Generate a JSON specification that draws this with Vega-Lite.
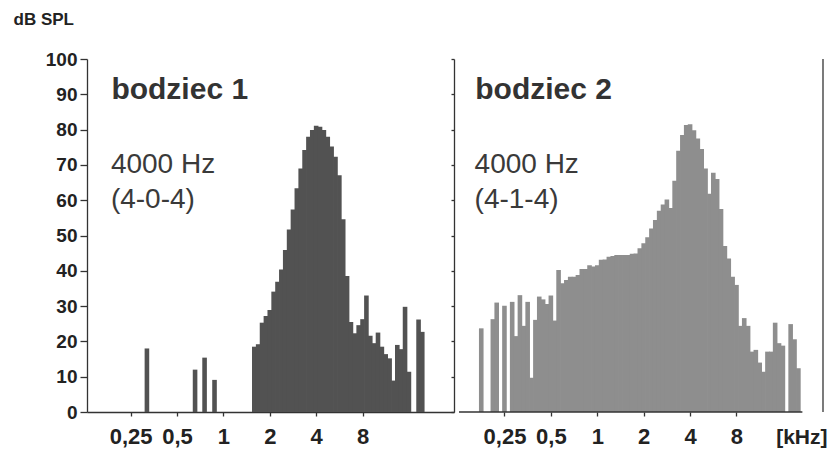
{
  "$schema": "https://vega.github.io/schema/vega-lite/v6.json",
  "background": "white",
  "padding": {"left": 13, "top": 10, "right": 9, "bottom": 4},
  "bounds": "flush",
  "spacing": 0,
  "config": {
    "view": {"stroke": null},
    "font": "Liberation Sans",
    "axis": {
      "grid": false,
      "domainColor": "#333333",
      "domainWidth": 1.3,
      "tickColor": "#333333",
      "tickWidth": 1.3,
      "labelColor": "#222222",
      "labelFont": "Liberation Sans",
      "labelFontWeight": "bold",
      "labelOverlap": false,
      "titleFont": "Liberation Sans",
      "titleColor": "#222222"
    },
    "axisY": {"labelOverlap": false, "labelSeparation": 0},
    "text": {"font": "Liberation Sans"}
  },
  "datasets": {
    "stimulus1": [
      {"f": 0.319, "db": 18}, {"f": 0.655, "db": 12}, {"f": 0.755, "db": 15.4}, {"f": 0.876, "db": 9.1},
      {"f": 1.587, "db": 18.5}, {"f": 1.682, "db": 19.2}, {"f": 1.782, "db": 25.3}, {"f": 1.888, "db": 27.2},
      {"f": 2.0, "db": 28.9}, {"f": 2.119, "db": 34.1}, {"f": 2.245, "db": 36.9}, {"f": 2.378, "db": 40.4},
      {"f": 2.52, "db": 45.9}, {"f": 2.67, "db": 51.7}, {"f": 2.828, "db": 57.4}, {"f": 2.997, "db": 63.4},
      {"f": 3.175, "db": 69.0}, {"f": 3.364, "db": 74.2}, {"f": 3.564, "db": 78.0}, {"f": 3.775, "db": 79.9},
      {"f": 4.0, "db": 81.1}, {"f": 4.238, "db": 80.8}, {"f": 4.49, "db": 79.9}, {"f": 4.757, "db": 78.0},
      {"f": 5.04, "db": 75.2}, {"f": 5.339, "db": 72.3}, {"f": 5.657, "db": 67.1}, {"f": 5.993, "db": 54.6},
      {"f": 6.35, "db": 38.5}, {"f": 6.727, "db": 25.5}, {"f": 7.127, "db": 22.3}, {"f": 7.551, "db": 24.6},
      {"f": 8.0, "db": 26.3}, {"f": 8.476, "db": 33.0}, {"f": 8.98, "db": 21.6}, {"f": 9.514, "db": 19.5},
      {"f": 10.08, "db": 22.5}, {"f": 10.68, "db": 18.5}, {"f": 11.31, "db": 16.4}, {"f": 11.99, "db": 15.2},
      {"f": 12.7, "db": 8.9}, {"f": 13.45, "db": 19.0}, {"f": 14.25, "db": 17.8}, {"f": 15.1, "db": 29.8},
      {"f": 16.0, "db": 11.4}, {"f": 18.48, "db": 26.2}, {"f": 19.53, "db": 22.7}
    ],
    "stimulus2": [
      {"f": 0.1768, "db": 23.7}, {"f": 0.2102, "db": 26.3}, {"f": 0.2227, "db": 31.0}, {"f": 0.25, "db": 30.1},
      {"f": 0.2806, "db": 31.2}, {"f": 0.2973, "db": 21.5}, {"f": 0.315, "db": 33.1}, {"f": 0.3337, "db": 24.4},
      {"f": 0.3536, "db": 31.2}, {"f": 0.3746, "db": 9.7}, {"f": 0.3969, "db": 26.1}, {"f": 0.4204, "db": 32.7},
      {"f": 0.4454, "db": 31.9}, {"f": 0.4719, "db": 30.6}, {"f": 0.5, "db": 33.0}, {"f": 0.5297, "db": 25.9},
      {"f": 0.5612, "db": 40.2}, {"f": 0.5946, "db": 36.5}, {"f": 0.63, "db": 37.4}, {"f": 0.6674, "db": 38.3},
      {"f": 0.7071, "db": 38.3}, {"f": 0.7492, "db": 38.8}, {"f": 0.7937, "db": 40.5}, {"f": 0.8409, "db": 40.5},
      {"f": 0.8909, "db": 41.6}, {"f": 0.9439, "db": 41.2}, {"f": 1.0, "db": 41.6}, {"f": 1.059, "db": 43.1},
      {"f": 1.122, "db": 43.2}, {"f": 1.189, "db": 44.0}, {"f": 1.26, "db": 44.2}, {"f": 1.335, "db": 44.5},
      {"f": 1.414, "db": 44.5}, {"f": 1.498, "db": 44.5}, {"f": 1.587, "db": 44.5}, {"f": 1.682, "db": 44.8},
      {"f": 1.782, "db": 44.9}, {"f": 1.888, "db": 46.4}, {"f": 2.0, "db": 47.8}, {"f": 2.119, "db": 49.5},
      {"f": 2.245, "db": 52.0}, {"f": 2.378, "db": 54.4}, {"f": 2.52, "db": 57.0}, {"f": 2.67, "db": 58.8},
      {"f": 2.828, "db": 60.2}, {"f": 2.997, "db": 57.8}, {"f": 3.175, "db": 65.5}, {"f": 3.364, "db": 74.0},
      {"f": 3.564, "db": 78.5}, {"f": 3.775, "db": 81.3}, {"f": 4.0, "db": 81.5}, {"f": 4.238, "db": 79.8},
      {"f": 4.49, "db": 77.5}, {"f": 4.757, "db": 74.5}, {"f": 5.04, "db": 69.0}, {"f": 5.339, "db": 61.8},
      {"f": 5.657, "db": 67.8}, {"f": 5.993, "db": 66.0}, {"f": 6.35, "db": 57.5}, {"f": 6.727, "db": 47.0},
      {"f": 7.127, "db": 43.5}, {"f": 7.551, "db": 38.3}, {"f": 8.0, "db": 36.0}, {"f": 8.476, "db": 24.4},
      {"f": 8.98, "db": 26.6}, {"f": 9.514, "db": 24.4}, {"f": 10.08, "db": 17.1}, {"f": 10.68, "db": 17.6},
      {"f": 11.31, "db": 14.0}, {"f": 11.99, "db": 11.4}, {"f": 12.7, "db": 17.1}, {"f": 13.45, "db": 17.1},
      {"f": 14.25, "db": 25.3}, {"f": 15.1, "db": 19.5}, {"f": 16.0, "db": 18.8}, {"f": 17.96, "db": 24.9},
      {"f": 19.03, "db": 20.6}, {"f": 20.16, "db": 12.4}
    ]
  },
  "hconcat": [
    {
      "width": 367,
      "height": 353,
      "layer": [
        {
          "data": {"name": "stimulus1"},
          "mark": {"type": "bar", "color": "#525252", "width": 4.6},
          "encoding": {
            "x": {
              "field": "f",
              "type": "quantitative",
              "scale": {"type": "log", "domain": [0.1404, 29.12], "nice": false},
              "axis": {
                "title": null,
                "values": [0.25, 0.5, 1, 2, 4, 8],
                "format": "~g",
                "labelExpr": "replace(datum.label, '.', ',')",
                "labelFontSize": 22,
                "labelPadding": 10,
                "tickSize": 4,
                "labelFlush": false,
                "labelOverlap": false
              }
            },
            "y": {
              "field": "db",
              "type": "quantitative",
              "stack": null,
              "scale": {"domain": [0, 100], "nice": false},
              "axis": {
                "values": [0, 10, 20, 30, 40, 50, 60, 70, 80, 90, 100],
                "tickCount": 11,
                "labelOverlap": false,
                "labelFontSize": 19,
                "labelPadding": 3,
                "tickSize": 7,
                "title": "dB SPL",
                "titleAngle": 0,
                "titleX": -74,
                "titleY": -35,
                "titleAlign": "left",
                "titleBaseline": "alphabetic",
                "titleFontSize": 17,
                "titleFontWeight": "bold"
              }
            }
          }
        },
        {
          "data": {"values": [{}]},
          "mark": {"type": "text", "align": "left", "baseline": "alphabetic", "fontSize": 30, "fontWeight": "bold", "color": "#333333"},
          "encoding": {"x": {"datum": 0.1876}, "y": {"datum": 88.7}, "text": {"value": "bodziec 1"}}
        },
        {
          "data": {"values": [{}]},
          "mark": {"type": "text", "align": "left", "baseline": "alphabetic", "fontSize": 28, "lineHeight": 35, "color": "#3a3a3a"},
          "encoding": {"x": {"datum": 0.1862}, "y": {"datum": 67.6}, "text": {"value": ["4000 Hz", "(4-0-4)"]}}
        }
      ]
    },
    {
      "width": 374,
      "height": 353,
      "layer": [
        {
          "data": {"name": "stimulus2"},
          "mark": {"type": "bar", "color": "#8e8e8e", "width": 4.6},
          "encoding": {
            "x": {
              "field": "f",
              "type": "quantitative",
              "scale": {"type": "log", "domain": [0.1268, 29.12], "nice": false},
              "axis": {
                "domain": false,
                "values": [0.25, 0.5, 1, 2, 4, 8],
                "format": "~g",
                "labelExpr": "replace(datum.label, '.', ',')",
                "labelFontSize": 22,
                "labelPadding": 10,
                "tickSize": 4,
                "labelFlush": false,
                "labelOverlap": false,
                "title": "[kHz]",
                "titleX": 373,
                "titleY": 31,
                "titleAlign": "right",
                "titleBaseline": "alphabetic",
                "titleFontSize": 21,
                "titleFontWeight": "bold"
              }
            },
            "y": {
              "field": "db",
              "type": "quantitative",
              "stack": null,
              "scale": {"domain": [0, 100], "nice": false},
              "axis": {
                "values": [0, 10, 20, 30, 40, 50, 60, 70, 80, 90, 100],
                "tickCount": 11,
                "labels": false,
                "tickSize": 3,
                "title": null
              }
            }
          }
        },
        {
          "data": {"values": [{}]},
          "mark": {"type": "rule", "color": "#333333", "strokeWidth": 1.3},
          "encoding": {"x": {"datum": 0.1268}, "x2": {"datum": 21.4}, "y": {"datum": 0}}
        },
        {
          "data": {"values": [{}]},
          "mark": {"type": "rule", "color": "#333333", "strokeWidth": 1.3},
          "encoding": {"x": {"datum": 29.12}, "y": {"datum": 0}, "y2": {"datum": 100}}
        },
        {
          "data": {"values": [{}]},
          "mark": {"type": "text", "align": "left", "baseline": "alphabetic", "fontSize": 30, "fontWeight": "bold", "color": "#333333"},
          "encoding": {"x": {"datum": 0.1617}, "y": {"datum": 88.7}, "text": {"value": "bodziec 2"}}
        },
        {
          "data": {"values": [{}]},
          "mark": {"type": "text", "align": "left", "baseline": "alphabetic", "fontSize": 28, "lineHeight": 35, "color": "#3a3a3a"},
          "encoding": {"x": {"datum": 0.16}, "y": {"datum": 67.6}, "text": {"value": ["4000 Hz", "(4-1-4)"]}}
        }
      ]
    }
  ]
}
